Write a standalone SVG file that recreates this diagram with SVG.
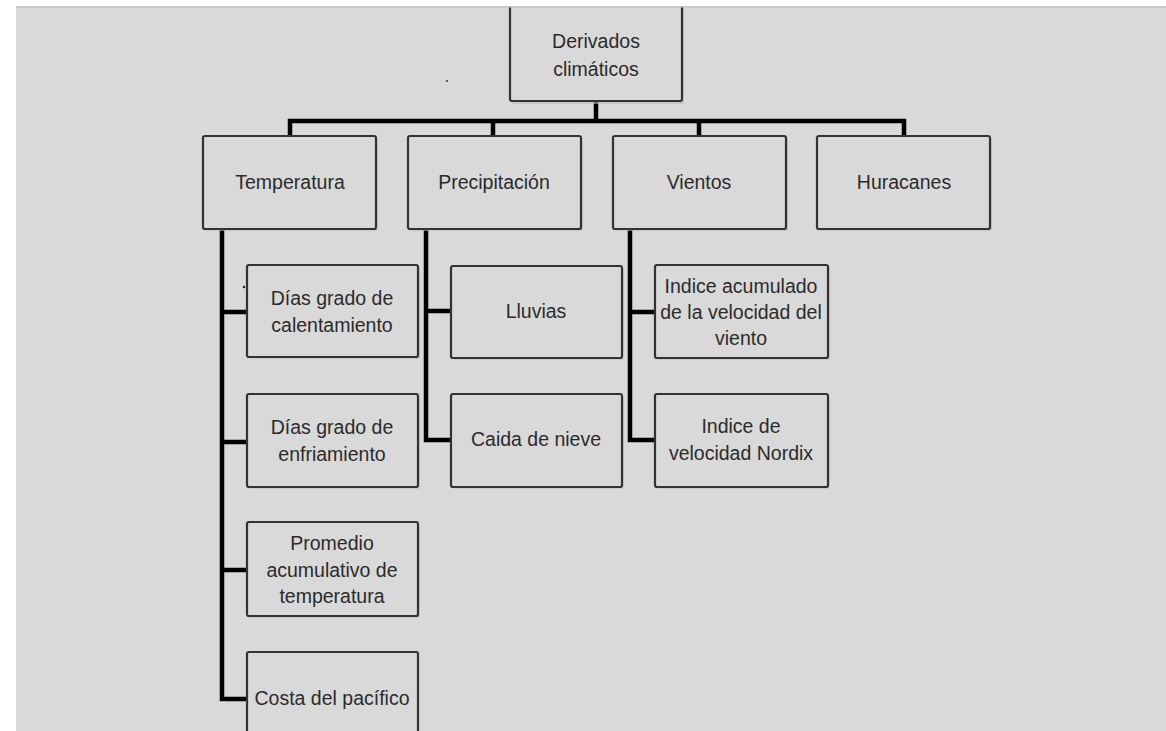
<svg xmlns="http://www.w3.org/2000/svg" width="1166" height="731" viewBox="0 0 1166 731">
<defs>
<style>
.box{fill:#d9d9d9;stroke:#333;stroke-width:2.2}
.sh{fill:#bdbdbd;opacity:0.6}
.t{font-family:"Liberation Sans",Arial,sans-serif;font-size:19.5px;fill:#2b2b2b;text-anchor:middle}
.c{fill:none;stroke:#000;stroke-width:4.5;stroke-linejoin:miter;stroke-linecap:square}
</style>
</defs>
<rect x="0" y="0" width="1166" height="731" fill="#ffffff"/>
<rect x="16" y="7" width="1150" height="724" fill="#d9d9d9"/>
<g id="connectors">
<path class="c" d="M596 101V121M290 135V121H904V135M493 121V135M699 121V135"/>
<path class="c" d="M222 229V699H247M222 312H247M222 442H247M222 570H247"/>
<path class="c" d="M426 229V440H451M426 311H451"/>
<path class="c" d="M630 229V440H655M630 312H655"/>
</g>
<g id="n-derivados">
<rect class="sh" x="512" y="-4" width="172" height="108" rx="2"/>
<rect class="box" x="510" y="-6" width="172" height="107" rx="2"/>
<text class="t" x="596" y="48">Derivados</text>
<text class="t" x="596" y="76">climáticos</text>
</g>
<g id="n-temperatura">
<rect class="sh" x="205" y="138" width="173" height="93" rx="2"/>
<rect class="box" x="203" y="136" width="173" height="93" rx="2"/>
<text class="t" x="290" y="189">Temperatura</text>
</g>
<g id="n-precipitacion">
<rect class="sh" x="410" y="138" width="173" height="93" rx="2"/>
<rect class="box" x="408" y="136" width="173" height="93" rx="2"/>
<text class="t" x="494" y="189">Precipitación</text>
</g>
<g id="n-vientos">
<rect class="sh" x="615" y="138" width="173" height="93" rx="2"/>
<rect class="box" x="613" y="136" width="173" height="93" rx="2"/>
<text class="t" x="699" y="189">Vientos</text>
</g>
<g id="n-huracanes">
<rect class="sh" x="819" y="138" width="173" height="93" rx="2"/>
<rect class="box" x="817" y="136" width="173" height="93" rx="2"/>
<text class="t" x="904" y="189">Huracanes</text>
</g>
<g id="n-calentamiento">
<rect class="sh" x="249" y="267" width="171" height="92" rx="2"/>
<rect class="box" x="247" y="265" width="171" height="92" rx="2"/>
<text class="t" x="332" y="305">Días grado de</text>
<text class="t" x="332" y="332">calentamiento</text>
</g>
<g id="n-enfriamiento">
<rect class="sh" x="249" y="396" width="171" height="93" rx="2"/>
<rect class="box" x="247" y="394" width="171" height="93" rx="2"/>
<text class="t" x="332" y="434">Días grado de</text>
<text class="t" x="332" y="461">enfriamiento</text>
</g>
<g id="n-promedio">
<rect class="sh" x="249" y="524" width="171" height="94" rx="2"/>
<rect class="box" x="247" y="522" width="171" height="94" rx="2"/>
<text class="t" x="332" y="550">Promedio</text>
<text class="t" x="332" y="577">acumulativo de</text>
<text class="t" x="332" y="603">temperatura</text>
</g>
<g id="n-costa">
<rect class="box" x="247" y="652" width="171" height="100" rx="2"/>
<text class="t" x="332" y="705">Costa del pacífico</text>
</g>
<g id="n-lluvias">
<rect class="sh" x="453" y="268" width="171" height="92" rx="2"/>
<rect class="box" x="451" y="266" width="171" height="92" rx="2"/>
<text class="t" x="536" y="318">Lluvias</text>
</g>
<g id="n-nieve">
<rect class="sh" x="453" y="396" width="171" height="93" rx="2"/>
<rect class="box" x="451" y="394" width="171" height="93" rx="2"/>
<text class="t" x="536" y="446">Caida de nieve</text>
</g>
<g id="n-indice-acumulado">
<rect class="sh" x="657" y="267" width="173" height="93" rx="2"/>
<rect class="box" x="655" y="265" width="173" height="93" rx="2"/>
<text class="t" x="741" y="293">Indice acumulado</text>
<text class="t" x="741" y="319">de la velocidad del</text>
<text class="t" x="741" y="345">viento</text>
</g>
<g id="n-nordix">
<rect class="sh" x="657" y="396" width="173" height="93" rx="2"/>
<rect class="box" x="655" y="394" width="173" height="93" rx="2"/>
<text class="t" x="741" y="433">Indice de</text>
<text class="t" x="741" y="460">velocidad Nordix</text>
</g>
<circle cx="447" cy="81" r="1" fill="#333"/>
<circle cx="244" cy="287" r="1.2" fill="#222"/>
<rect x="0" y="0" width="1166" height="7" fill="#ffffff"/>
<rect x="16" y="6" width="1150" height="1.5" fill="#c4c4c4"/>
<rect x="0" y="0" width="16" height="731" fill="#ffffff"/>
</svg>
